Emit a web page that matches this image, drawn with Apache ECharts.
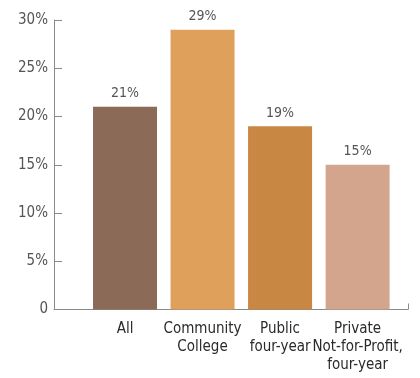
<!DOCTYPE html>
<html>
<head>
<meta charset="utf-8">
<script src="https://cdn.jsdelivr.net/npm/echarts@6/dist/echarts.min.js"></script>
<style>html,body{margin:0;padding:0;background:#fff}#c{width:420px;height:378px}</style>
</head>
<body>
<div id="c"></div>
<script>
var categories = ['All', 'Community\nCollege', 'Public\nfour-year', 'Private\nNot-for-Profit,\nfour-year'];
var values = [21, 29, 19, 15];
var colors = ['#8b6a58', '#dfa05c', '#c98744', '#d3a58c'];
var yTicks = [0, 5, 10, 15, 20, 25, 30];

var FONT = "'Liberation Sans Narrow', 'DejaVu Sans Condensed', 'Liberation Sans', sans-serif";
var chart = echarts.init(document.getElementById('c'), null, {renderer: 'canvas'});
var xMin = -0.916, xMax = 3.65;
chart.setOption({
  animation: false,
  grid: {left: 54, right: 12, top: 20, bottom: 68.5, containLabel: false},
  xAxis: {
    type: 'value', min: xMin, max: xMax,
    splitLine: {show: false},
    axisLine: {show: true, onZero: false, lineStyle: {color: '#8a8a8a', width: 1}},
    axisTick: {show: true, inside: true, length: 6, customValues: [xMax], lineStyle: {color: '#8a8a8a'}},
    axisLabel: {
      show: true, customValues: categories.map(function (c, i) { return i; }),
      formatter: function (v) { return categories[Math.round(v)]; },
      color: '#2a2a2a', fontFamily: FONT, fontSize: 15, lineHeight: 18, margin: 11
    }
  },
  yAxis: {
    type: 'value', min: 0, max: 30, interval: 5,
    splitLine: {show: false},
    axisLine: {show: true, onZero: false, lineStyle: {color: '#8a8a8a', width: 1}},
    axisTick: {show: true, inside: true, length: 8, lineStyle: {color: '#8a8a8a'}},
    axisLabel: {
      color: '#555', fontFamily: FONT, fontSize: 15, margin: 6,
      customValues: yTicks,
      formatter: function (v) { return v === 0 ? '0' : v + '%'; }
    }
  },
  series: [{
    type: 'bar',
    barWidth: 64,
    data: values.map(function (v, i) { return {value: [i, v], itemStyle: {color: colors[i]}}; }),
    label: {
      show: true, position: 'top', distance: 6,
      color: '#555', fontFamily: FONT, fontSize: 14,
      formatter: function (p) { return p.value[1] + '%'; }
    }
  }]
});
</script>
</body>
</html>
